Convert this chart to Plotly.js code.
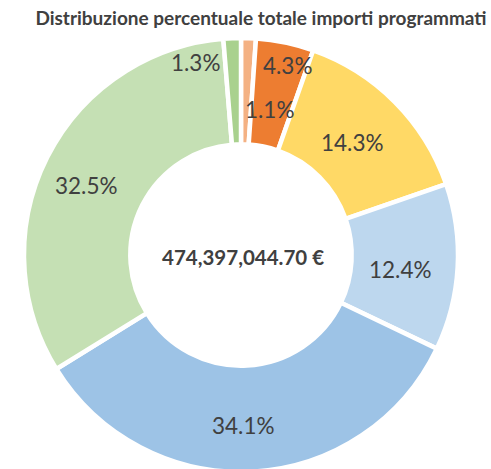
<!DOCTYPE html>
<html>
<head>
<meta charset="utf-8">
<script src="https://cdn.plot.ly/plotly-3.0.1.min.js"></script>
<style>
html,body{margin:0;padding:0;background:#fff;overflow:hidden;}
#chart{width:491px;height:475px;}
</style>
</head>
<body>
<div id="chart"></div>
<script>
// ---- data ----
const categories = ["Cat. 1", "Cat. 2", "Cat. 3", "Cat. 4", "Cat. 5", "Cat. 6", "Cat. 7"];
const shares = [1.1, 4.3, 14.3, 12.4, 34.1, 32.5, 1.3];
const sliceColors = ["#F4B183", "#ED7D31", "#FFD966", "#BDD7EE", "#9DC3E6", "#C5E0B4", "#A9D18E"];
const totalAmount = 474397044.70;
const chartTitle = "Distribuzione percentuale totale importi programmati";

// label nudges (pixels, right / down) for crowded small slices
const labelNudge = [[29, 15.5], [19, -32], [0, 0], [0, 0], [0, 0], [0, 0], [-32, -31.5]];

// ---- layout geometry ----
const W = 491, H = 475;
const M = {l: 24, r: 33, t: 38, b: 3};
const plotW = W - M.l - M.r; // 434
const labelR = 166 / plotW;   // label radius in paper units

const totalShare = shares.reduce((a, b) => a + b, 0);
let cum = 0;
const annotations = [];
shares.forEach((v, i) => {
  const mid = (cum + v / 2) / totalShare * 2 * Math.PI;
  cum += v;
  annotations.push({
    xref: "paper", yref: "paper",
    x: 0.5 + labelR * Math.sin(mid),
    y: 0.5 + labelR * Math.cos(mid),
    xanchor: "center", yanchor: "middle",
    xshift: -6.5 + labelNudge[i][0],
    yshift: -5 - labelNudge[i][1],
    text: v.toFixed(1) + "%",
    showarrow: false,
    font: {family: "Lato, 'Noto Sans', sans-serif", size: 22.5, color: "#404040"}
  });
});

const fmt = totalAmount.toLocaleString("en-US", {minimumFractionDigits: 2, maximumFractionDigits: 2}) + " €";
annotations.push({
  xref: "paper", yref: "paper",
  x: 0.5 + 2 / plotW, y: 1 - (257 - M.t) / plotW,
  xanchor: "center", yanchor: "middle",
  text: "<b>" + fmt + "</b>",
  showarrow: false,
  font: {family: "Lato, 'Noto Sans', sans-serif", size: 20.5, color: "#404040"}
});

const trace = {
  type: "pie",
  labels: categories,
  values: shares,
  hole: 0.51,
  sort: false,
  direction: "clockwise",
  rotation: 0,
  textinfo: "none",
  textposition: "none",
  hoverinfo: "label+percent",
  marker: {colors: sliceColors, line: {color: "#ffffff", width: 4.5}},
  showlegend: false
};

const layout = {
  width: W, height: H,
  margin: M,
  paper_bgcolor: "#ffffff",
  plot_bgcolor: "#ffffff",
  showlegend: false,
  title: {
    text: "<b>" + chartTitle + "</b>",
    x: 261 / W, xref: "container", xanchor: "center",
    y: 1 - 18 / H, yref: "container", yanchor: "middle",
    font: {family: "Lato, 'Noto Sans', sans-serif", size: 19, color: "#404040"}
  },
  annotations: annotations
};

Plotly.newPlot("chart", [trace], layout, {displayModeBar: false, staticPlot: true});
</script>
</body>
</html>
